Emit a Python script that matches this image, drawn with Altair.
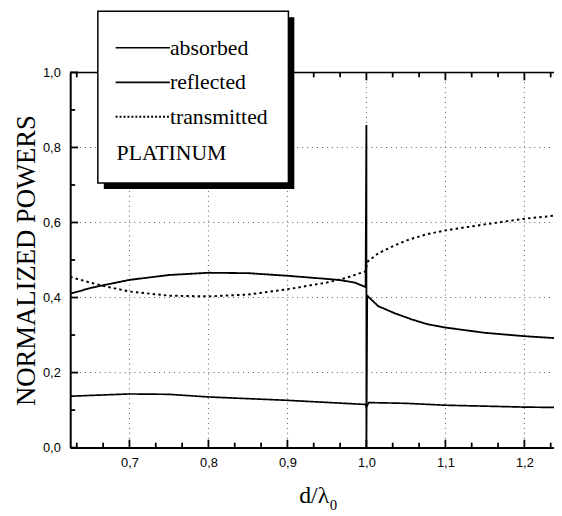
import altair as alt
import pandas as pd

# ---------------- data ----------------
refl_x = [0.625, 0.65, 0.665, 0.7, 0.75, 0.8, 0.85, 0.9, 0.965, 0.985, 0.999,
          1.0, 1.0,
          1.001, 1.015, 1.036, 1.057, 1.077, 1.1, 1.15, 1.2, 1.2375]
refl_y = [0.41, 0.425, 0.432, 0.447, 0.46, 0.466, 0.465, 0.458, 0.447, 0.44, 0.428,
          0.86, 0.0,
          0.405, 0.377, 0.358, 0.342, 0.329, 0.32, 0.306, 0.297, 0.292]

trans_x = [0.625, 0.65, 0.665, 0.7, 0.75, 0.8, 0.85, 0.9, 0.95, 0.974, 0.992, 0.999,
           1.001, 1.015, 1.036, 1.052, 1.075, 1.1, 1.15, 1.2, 1.2375]
trans_y = [0.455, 0.44, 0.432, 0.416, 0.405, 0.403, 0.408, 0.422, 0.44, 0.452, 0.465, 0.47,
           0.495, 0.518, 0.539, 0.553, 0.568, 0.579, 0.595, 0.61, 0.618]

abs_x = [0.625, 0.7, 0.75, 0.8, 0.9, 0.999, 1.0, 1.003, 1.05, 1.1, 1.2, 1.2375]
abs_y = [0.137, 0.143, 0.142, 0.135, 0.126, 0.115, 0.108, 0.12, 0.118, 0.113, 0.108, 0.107]

x_major = [0.7, 0.8, 0.9, 1.0, 1.1, 1.2]
x_minor = [0.6333, 0.6667, 0.7333, 0.7667, 0.8333, 0.8667, 0.9333, 0.9667,
           1.0333, 1.0667, 1.1333, 1.1667, 1.2333]
y_major = [0.0, 0.2, 0.4, 0.6, 0.8, 1.0]
y_minor = [0.1, 0.3, 0.5, 0.7, 0.9]
x_grid = [0.7, 0.8, 0.9, 1.0, 1.1, 1.2]
y_grid = [0.2, 0.4, 0.6, 0.8]

legend_labels = ["absorbed", "reflected", "transmitted"]
legend_note = "PLATINUM"
x_title = "d/λ"
x_title_sub = "0"
y_title = "NORMALIZED POWERS"

# ---------------- build tables ----------------
rows = []
for name, xs_, ys_ in [("absorbed", abs_x, abs_y), ("reflected", refl_x, refl_y),
                       ("transmitted", trans_x, trans_y)]:
    for i, (a, b) in enumerate(zip(xs_, ys_)):
        rows.append({"x": a, "y": b, "series": name, "ord": i})
df = pd.DataFrame(rows)

W, H = 490, 380
X0, X1 = 0.625, 1.2375
Y0, Y1 = 0.0, 1.0
xs = alt.Scale(domain=[X0, X1], nice=False, zero=False)
ys = alt.Scale(domain=[Y0, Y1], nice=False, zero=True)
SERIF = "Liberation Serif"
SANS = "Liberation Sans"
label_expr = "replace(format(datum.value, '.1f'), '.', ',')"

# inward tick segments (lengths in px converted to data units)
MAJ, MIN = 8, 5
tx = (X1 - X0) / W
ty = (Y1 - Y0) / H
seg = []
for v in x_major:
    seg.append({"a": v, "b": Y0, "a2": v, "b2": Y0 + MAJ * ty})
    seg.append({"a": v, "b": Y1, "a2": v, "b2": Y1 - MAJ * ty})
for v in x_minor:
    seg.append({"a": v, "b": Y0, "a2": v, "b2": Y0 + MIN * ty})
    seg.append({"a": v, "b": Y1, "a2": v, "b2": Y1 - MIN * ty})
for v in y_major:
    seg.append({"a": X0, "b": v, "a2": X0 + MAJ * tx, "b2": v})
for v in y_minor:
    seg.append({"a": X0, "b": v, "a2": X0 + MIN * tx, "b2": v})
seg_df = pd.DataFrame(seg)

# grid (dotted, faint)
gx = alt.Chart(pd.DataFrame({"gv": x_grid})).mark_rule(
    color="#555", strokeDash=[1, 4], strokeWidth=1).encode(
    x=alt.X("gv:Q", scale=xs), y=alt.value(0), y2=alt.value(H))
gy = alt.Chart(pd.DataFrame({"gv": y_grid})).mark_rule(
    color="#555", strokeDash=[1, 4], strokeWidth=1).encode(
    y=alt.Y("gv:Q", scale=ys), x=alt.value(0), x2=alt.value(W))

main = alt.Chart(df).mark_line(color="black", strokeCap="butt").encode(
    x=alt.X("x:Q", scale=xs, axis=alt.Axis(
        orient="bottom", values=x_major, labelExpr=label_expr, ticks=False, tickSize=0,
        labelPadding=9, labelFont=SANS, labelFontSize=13, labelColor="black",
        domainColor="black", domainWidth=2, grid=False, title=None)),
    y=alt.Y("y:Q", scale=ys, axis=alt.Axis(
        orient="left", values=y_major, labelExpr=label_expr, ticks=False, tickSize=0,
        labelPadding=10, labelFont=SANS, labelFontSize=13, labelColor="black",
        domainColor="black", domainWidth=2, grid=False, title=y_title, titleFont=SERIF,
        titleFontSize=27, titleFontWeight="normal", titleColor="black",
        titlePadding=2)),
    strokeDash=alt.StrokeDash("series:N", scale=alt.Scale(
        domain=legend_labels, range=[[1, 0], [1, 0], [2.5, 3.2]]), legend=None),
    strokeWidth=alt.StrokeWidth("series:N", scale=alt.Scale(
        domain=legend_labels, range=[1.7, 2.0, 2.8]), legend=None),
    detail="series:N",
    order="ord:Q",
)

ticks = alt.Chart(seg_df).mark_rule(color="black", strokeWidth=1.8).encode(
    x=alt.X("a:Q", scale=xs), y=alt.Y("b:Q", scale=ys),
    x2="a2:Q", y2="b2:Q")

one = pd.DataFrame({"k": [0]})
top_frame = alt.Chart(one).mark_rule(color="black", strokeWidth=1.5).encode(
    x=alt.value(0), x2=alt.value(W), y=alt.value(0))

# ---------------- legend box ----------------
bx0, bx1, by0, by1 = 28, 221, -62, 112
shadow = alt.Chart(one).mark_rect(color="black").encode(
    x=alt.value(bx0 + 6), x2=alt.value(bx1 + 6), y=alt.value(by0 + 6), y2=alt.value(by1 + 6))
box = alt.Chart(one).mark_rect(fill="white", stroke="black", strokeWidth=1.5).encode(
    x=alt.value(bx0), x2=alt.value(bx1), y=alt.value(by0), y2=alt.value(by1))

leg_layers = [shadow, box]
dashes = [[1, 0], [1, 0], [2, 2]]
widths = [1.3, 1.8, 2.0]
for i, lab in enumerate(legend_labels):
    yy = -25 + i * 35
    leg_layers.append(alt.Chart(one).mark_rule(color="black", strokeDash=dashes[i],
                                               strokeWidth=widths[i]).encode(
        x=alt.value(46), x2=alt.value(101), y=alt.value(yy)))
    leg_layers.append(alt.Chart(one).mark_text(
        text=lab, font=SERIF, fontSize=22, color="black", align="left",
        baseline="middle").encode(x=alt.value(101), y=alt.value(yy)))
leg_layers.append(alt.Chart(one).mark_text(
    text=legend_note, font=SERIF, fontSize=22, color="black", align="left",
    baseline="middle").encode(x=alt.value(47), y=alt.value(82)))

# ---------------- x title with subscript ----------------
xt = alt.Chart(one).mark_text(text=x_title, font=SERIF, fontSize=24, color="black",
                              align="left", baseline="alphabetic").encode(
    x=alt.value(232), y=alt.value(436))
xt_sub = alt.Chart(one).mark_text(text=x_title_sub, font=SERIF, fontSize=15, color="black",
                                  align="left", baseline="alphabetic").encode(
    x=alt.value(263), y=alt.value(443))

chart = alt.layer(gx, gy, main, ticks, top_frame, *leg_layers, xt, xt_sub).properties(
    width=W, height=H,
    autosize=alt.AutoSizeParams(type="none"),
    padding={"left": 63, "top": 62, "right": 0, "bottom": 64},
).configure_view(stroke=None).configure(background="white")

chart.save("out.html", embed_options={"renderer": "svg", "actions": False})
